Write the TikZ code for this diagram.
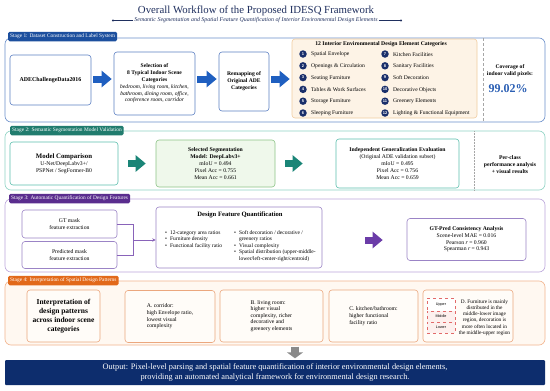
\documentclass[tikz,border=0pt]{standalone}
\usepackage{fontspec}
\setmainfont{Liberation Serif}
\newfontfamily\labelsans{Liberation Sans}
\usetikzlibrary{arrows.meta,calc}
\definecolor{titlenavy}{HTML}{1F2F5E}
\definecolor{sonetab}{HTML}{1C4F9E}
\definecolor{soneline}{HTML}{6B8FCB}
\definecolor{sonebox}{HTML}{5C80C2}
\definecolor{sonearrow}{HTML}{1F5FC0}
\definecolor{catfill}{HTML}{FDF3E6}
\definecolor{catline}{HTML}{F1CDA0}
\definecolor{numnavy}{HTML}{1A2F6B}
\definecolor{stwotab}{HTML}{217C6E}
\definecolor{stwoline}{HTML}{8ED3C4}
\definecolor{stwobox}{HTML}{5DBFAE}
\definecolor{stwoarrow}{HTML}{1A8577}
\definecolor{greenfill}{HTML}{EFF8EB}
\definecolor{greenline}{HTML}{8DC487}
\definecolor{sthreetab}{HTML}{5A2D8E}
\definecolor{sthreeline}{HTML}{BBA6DB}
\definecolor{sthreebox}{HTML}{9B84C6}
\definecolor{sthreearrow}{HTML}{6B3CA8}
\definecolor{sfourtab}{HTML}{E2691A}
\definecolor{sfourline}{HTML}{F2B48E}
\definecolor{sfourfill}{HTML}{FFF8F1}
\definecolor{sfourbox}{HTML}{EBA77E}
\definecolor{sfourinner}{HTML}{FFFCF8}
\definecolor{outnavy}{HTML}{0D2D6D}
\definecolor{pctblue}{HTML}{2B5FB4}
\definecolor{dashred}{HTML}{E26A6A}
\definecolor{zonefill}{HTML}{FDF0EE}
\definecolor{arrowgray}{HTML}{8A8A8A}
\begin{document}
\begin{tikzpicture}[x=1pt,y=-1pt,
  every node/.style={inner sep=0pt},
  small/.style={font=\fontsize{5.7}{6.8}\selectfont},
  frame/.style={line width=0.6pt, rounded corners=6pt},
  stagetab/.style={anchor=west, text=white, rounded corners=1.5pt, inner xsep=2pt, minimum height=9.5pt, font=\fontsize{5.4}{6}\selectfont},
  box/.style={draw, fill=white, rounded corners=3pt, line width=0.6pt, align=center, small},
  sfbox/.style={box, draw=sfourbox, fill=sfourinner},
  fatarrow/.style={line width=7pt, -{Triangle[length=10pt,width=16pt]}},
  numc/.style={circle, fill=numnavy, text=white, minimum size=7.5pt, font=\labelsans\bfseries\fontsize{4}{4}\selectfont},
  itemtext/.style={anchor=west, font=\fontsize{5.6}{6}\selectfont},
  zone/.style={draw=dashred, dashed, line width=0.4pt, minimum width=28pt, font=\labelsans\fontsize{3.7}{4}\selectfont}
]
\useasboundingbox (0,0) rectangle (550,391);
\fill[white] (0,0) rectangle (550,391);

% ---------- title ----------
\node[font=\fontsize{10.8}{12}\selectfont, text=titlenavy] (title) at (256,11) {Overall Workflow of the Proposed IDESQ Framework};
\node[font=\itshape\fontsize{5.9}{6.5}\selectfont, text=titlenavy] (sub) at (256,20.5) {Semantic Segmentation and Spatial Feature Quantification of Interior Environmental Design Elements};
\coordinate (subl) at (113,20.5);
\coordinate (subr) at (401,20.5);
\draw[titlenavy, line width=0.4pt] ([xshift=-1pt]sub.west) -- (subl);
\draw[titlenavy, line width=0.4pt] ([xshift=1pt]sub.east) -- (subr);
\fill[titlenavy] (subl) circle (1.2);
\fill[titlenavy] (subr) circle (1.2);

% ---------- stage 1 ----------
\draw[frame, soneline] (5,38) rectangle (545,122);
\node[stagetab, fill=sonetab] (tabone) at (8,36.5) {Stage 1: Dataset Construction and Label System};

\node[box, draw=sonebox, minimum width=81pt, minimum height=50pt, font=\bfseries\fontsize{5.9}{6.6}\selectfont] (ade) at (50.5,80) {ADEChallengeData2016};
\node[box, draw=sonebox, minimum width=81pt, minimum height=63pt, font=\fontsize{5.6}{6.7}\selectfont] (sel) at (154.5,83.5) {\textbf{Selection of}\\\textbf{8 Typical Indoor Scene}\\\textbf{Categories}\\[0.4pt]\textit{bedroom, living room, kitchen,}\\\textit{bathroom, dining room, office,}\\\textit{conference room, corridor}};
\node[box, draw=sonebox, minimum width=50pt, minimum height=59pt, font=\bfseries\fontsize{5.6}{7}\selectfont] (remap) at (244,81.5) {Remapping of\\Original ADE\\Categories};
\node[draw=catline, fill=catfill, rounded corners=3pt, line width=0.6pt, minimum width=185pt, minimum height=79pt] (cat) at (384.5,78.5) {};
\node[font=\bfseries\fontsize{5.7}{6}\selectfont] (cathead) at (381,44.5) {12 Interior Environmental Design Element Categories};
\foreach \i/\t [count=\k from 0] in {1/Spatial Envelope, 2/Openings \& Circulation, 3/Seating Furniture, 4/Tables \& Work Surfaces, 5/Storage Furniture, 6/Sleeping Furniture} {
  \node[numc] (num\i) at (303,{54+11.8*\k}) {\i};
  \node[itemtext] (itm\i) at (311,{54.3+11.8*\k}) {\t};
}
\foreach \i/\t [count=\k from 0] in {7/Kitchen Facilities, 8/Sanitary Facilities, 9/Soft Decoration, 10/Decorative Objects, 11/Greenery Elements, 12/Lighting \& Functional Equipment} {
  \node[numc] (num\i) at (385,{54+11.8*\k}) {\i};
  \node[itemtext] (itm\i) at (393,{54.3+11.8*\k}) {\t};
}
\coordinate (donetop) at (483,38);
\coordinate (donebot) at (483,122);
\draw[gray!70, densely dashed, line width=0.4pt] (donetop) -- (donebot);
\node[font=\bfseries\fontsize{5.6}{6.8}\selectfont, align=center] (cov) at (510,71) {Coverage of\\indoor valid pixels:};
\node[font=\bfseries\fontsize{12}{12}\selectfont, text=pctblue] (pct) at (508,88.5) {99.02\%};

\coordinate (yone) at (0,79);
\draw[fatarrow, sonearrow, shorten <=2pt, shorten >=2pt] (ade.east |- yone) -- (sel.west |- yone);
\draw[fatarrow, sonearrow, shorten <=2pt, shorten >=2pt] (sel.east |- yone) -- (remap.west |- yone);
\draw[fatarrow, sonearrow, shorten <=2pt, shorten >=2pt] (remap.east |- yone) -- (cat.west |- yone);

% ---------- stage 2 ----------
\draw[frame, stwoline] (5,131) rectangle (545,190);
\node[stagetab, fill=stwotab] (tabtwo) at (10,130.5) {Stage 2: Semantic Segmentation Model Validation};
\node[box, draw=stwobox, minimum width=108pt, minimum height=43pt, font=\fontsize{5.7}{7.2}\selectfont] (mc) at (64,163.5) {{\bfseries\fontsize{6.8}{8}\selectfont Model Comparison}\\U-Net/DeepLabv3+/\\PSPNet / SegFormer-B0};
\node[box, draw=greenline, fill=greenfill, minimum width=119pt, minimum height=47pt, font=\fontsize{5.7}{7}\selectfont] (segsel) at (215.5,163.5) {\textbf{Selected Segmentation}\\\textbf{Model: DeepLabv3+}\\mIoU = 0.494\\Pixel Acc = 0.755\\Mean Acc = 0.661};
\node[box, draw=stwobox, minimum width=123pt, minimum height=49pt, font=\fontsize{5.7}{6.8}\selectfont] (indep) at (397.5,163.5) {\textbf{Independent Generalization Evaluation}\\(Original ADE validation subset)\\mIoU = 0.495\\Pixel Acc = 0.756\\Mean Acc = 0.659};
\coordinate (dtwotop) at (474,131);
\coordinate (dtwobot) at (474,190);
\draw[gray!70, densely dotted, line width=0.5pt] (dtwotop) -- (dtwobot);
\node[font=\bfseries\fontsize{5.7}{7.3}\selectfont, align=center] (perc) at (510,164.5) {Per-class\\performance analysis\\+ visual results};
\coordinate (ytwo) at (0,163.5);
\draw[fatarrow, stwoarrow, shorten <=10pt, shorten >=10pt] (mc.east |- ytwo) -- (segsel.west |- ytwo);
\draw[fatarrow, stwoarrow, shorten <=10pt, shorten >=33pt] (segsel.east |- ytwo) -- (indep.west |- ytwo);

% ---------- stage 3 ----------
\draw[frame, sthreeline] (5,199) rectangle (545,272);
\node[stagetab, fill=sthreetab] (tabthree) at (9,198.5) {Stage 3: Automatic Quantification of Design Features};
\node[box, draw=sthreebox, minimum width=95pt, minimum height=28pt, font=\fontsize{5.7}{7}\selectfont] (gt) at (69.5,224) {GT mask\\feature extraction};
\node[box, draw=sthreebox, minimum width=95pt, minimum height=27pt, font=\fontsize{5.7}{7}\selectfont] (pred) at (69.5,255) {Predicted mask\\feature extraction};
\node[box, draw=sthreebox, minimum width=166pt, minimum height=61pt] (dfq) at (239,237.5) {};
\node[font=\bfseries\fontsize{6.6}{7}\selectfont] (dfqt) at (240,215) {Design Feature Quantification};
\node[anchor=north west, font=\fontsize{5.5}{6.5}\selectfont] (blone) at (165,229.3) {\begin{tabular}{@{}l@{\hspace{3pt}}l@{}}\textbullet & 12-category area ratios\\ \textbullet & Furniture density\\ \textbullet & Functional facility ratio\end{tabular}};
\node[anchor=north west, font=\fontsize{5.5}{6.5}\selectfont] (bltwo) at (234,229.3) {\begin{tabular}{@{}l@{\hspace{3pt}}l@{}}\textbullet & Soft decoration / decorative /\\ & greenery ratios\\ \textbullet & Visual complexity\\ \textbullet & Spatial distribution (upper-middle-\\ & lower/left-center-right/centroid)\end{tabular}};
\node[box, draw=sthreebox, minimum width=119pt, minimum height=42pt, font=\fontsize{5.7}{6.7}\selectfont] (gtp) at (466.5,239.5) {\textbf{GT-Pred Consistency Analysis}\\Scene-level MAE = 0.016\\Pearson \textit{r} = 0.960\\Spearman \textit{r} = 0.943};
\coordinate (merge) at (133,240);
\draw[sthreearrow!80, line width=0.6pt] (gt.east) -| (merge);
\draw[sthreearrow!80, line width=0.6pt] (pred.east) -| (merge);
\draw[sthreearrow!80, line width=0.6pt, -{Stealth[length=3.5pt,width=3.5pt]}] (merge) -- (merge -| dfq.west);
\coordinate (ythree) at (0,240);
\draw[fatarrow, sthreearrow, shorten <=43pt, shorten >=24pt] (dfq.east |- ythree) -- (gtp.west |- ythree);

% ---------- stage 4 ----------
\draw[frame, sfourline, fill=sfourfill] (5,281) rectangle (545,345);
\node[stagetab, fill=sfourtab] (tabfour) at (8,280.5) {Stage 4: Interpretation of Spatial Design Patterns};
\node[sfbox, minimum width=73pt, minimum height=52pt, font=\bfseries\fontsize{7.5}{9}\selectfont] (interp) at (63.5,316) {Interpretation of\\design patterns\\across indoor scene\\categories};
\node[sfbox, minimum width=90pt, minimum height=52pt, align=left, font=\fontsize{5.7}{6.7}\selectfont] (pa) at (170,316.5) {A. corridor:\\high Envelope ratio,\\lowest visual\\complexity};
\node[sfbox, minimum width=103pt, minimum height=52pt, align=left, font=\fontsize{5.7}{6.5}\selectfont] (pb) at (271.5,316) {B. living room:\\higher visual\\complexity, richer\\decorative and\\greenery elements};
\node[sfbox, minimum width=89pt, minimum height=52pt, align=left, font=\fontsize{5.7}{7}\selectfont] (pc) at (373.5,316) {C. kitchen/bathroom:\\higher functional\\facility ratio};
\node[sfbox, minimum width=90pt, minimum height=52pt] (pd) at (468,316) {};
\node[zone, fill=white, minimum height=13pt] (zu) at (441,304.5) {Upper};
\node[zone, fill=zonefill, minimum height=11pt] (zm) at (441,316.5) {Middle};
\node[zone, fill=zonefill, minimum height=11pt] (zl) at (441,327.5) {Lower};
\node[font=\fontsize{5.3}{6.2}\selectfont, align=center] (dtext) at (484.5,317.5) {D. Furniture is mainly\\distributed in the\\middle-lower image\\region, decoration is\\more often located in\\the middle-upper region};

% ---------- output ----------
\node[fill=outnavy, minimum width=540pt, minimum height=25pt, rounded corners=1pt, text=white, align=center, font=\fontsize{8.3}{10.8}\selectfont] (out) at (275,372.5) {Output: Pixel-level parsing and spatial feature quantification of interior environmental design elements,\\providing an automated analytical framework for environmental design research.};
\coordinate (gtop) at (295,346.5);
\draw[arrowgray, line width=8pt, -{Triangle[length=6pt,width=16pt]}, shorten >=1.5pt] (gtop) -- (gtop |- out.north);
\end{tikzpicture}
\end{document}
